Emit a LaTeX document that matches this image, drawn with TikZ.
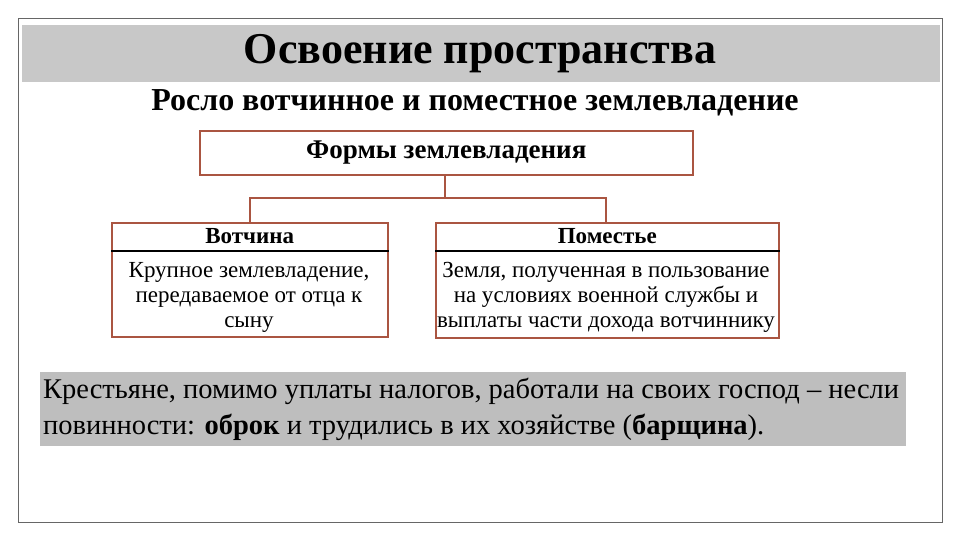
\documentclass[tikz,border=0pt]{standalone}
\usepackage{fontspec}
\setmainfont{Liberation Serif}
\usetikzlibrary{positioning, calc}
\definecolor{frame}{RGB}{170,85,65}
\definecolor{band}{RGB}{200,200,200}
\definecolor{note}{RGB}{190,190,190}

\begin{document}
\begin{tikzpicture}[
    x=1pt, y=-1pt,
    % Boxes
    formbox/.style={
        rectangle,
        draw=frame,
        line width=1.6pt,
        fill=white,
        inner sep=0pt
    },
    headtext/.style={
        font=\fontsize{23}{26}\selectfont\bfseries
    },
    bodytext/.style={
        font=\fontsize{23}{25}\selectfont,
        align=center
    },
    link/.style={
        draw=frame,
        line width=1.6pt
    }
]
\useasboundingbox (0,0) rectangle (960,540);

% === Frame and title ===
\draw[black!60, line width=0.8pt] (18,18) rectangle (942,522);
\fill[band] (22,25) rectangle (940,82);
\node[font=\fontsize{44}{48}\selectfont\bfseries] (title) at (480,54) {Освоение пространства};
\node[font=\fontsize{32}{36}\selectfont\bfseries] (subtitle) at (475,103) {Росло вотчинное и поместное землевладение};

% === Top box ===
\node[formbox, minimum width=493pt, minimum height=44pt, anchor=north west] (forms) at (199,130) {};
\node[font=\fontsize{27}{30}\selectfont\bfseries] at (forms) {Формы землевладения};

% === Lower boxes ===
\node[formbox, minimum width=276pt, minimum height=114pt, anchor=north west] (votchina) at (111,222) {};
\node[formbox, minimum width=343pt, minimum height=115pt, anchor=north west] (pomestie) at (435,222) {};
\draw[black, line width=1.2pt] (votchina.west |- 0,251) -- (votchina.east |- 0,251);
\draw[black, line width=1.2pt] (pomestie.west |- 0,251) -- (pomestie.east |- 0,251);
\node[headtext] at ($(votchina.north)!0.5!(votchina.north |- 0,251)$) {Вотчина};
\node[headtext] at ($(pomestie.north)!0.5!(pomestie.north |- 0,251)$) {Поместье};
\node[bodytext] at (249,297) {Крупное землевладение,\\передаваемое от отца к\\сыну};
\node[bodytext] at (606,297) {Земля, полученная в пользование\\на условиях военной службы и\\выплаты части дохода вотчиннику};

% === Connectors ===
\coordinate (fork) at (445,198);
\draw[link] (forms.south -| fork) -- (fork);
\draw[link] (votchina.north -| 250,0) -- (250,198) -- (606,198) -- (pomestie.north -| 606,0);

% === Note ===
\fill[note] (40,372) rectangle (906,446);
\node[anchor=north west, align=left, font=\fontsize{28.5}{36}\selectfont, inner sep=0pt] (peasants) at (43,378)
    {Крестьяне, помимо уплаты налогов, работали на своих господ – несли\\
     повинности: \textbf{оброк} и трудились в их хозяйстве (\textbf{барщина}).};
\end{tikzpicture}
\end{document}
